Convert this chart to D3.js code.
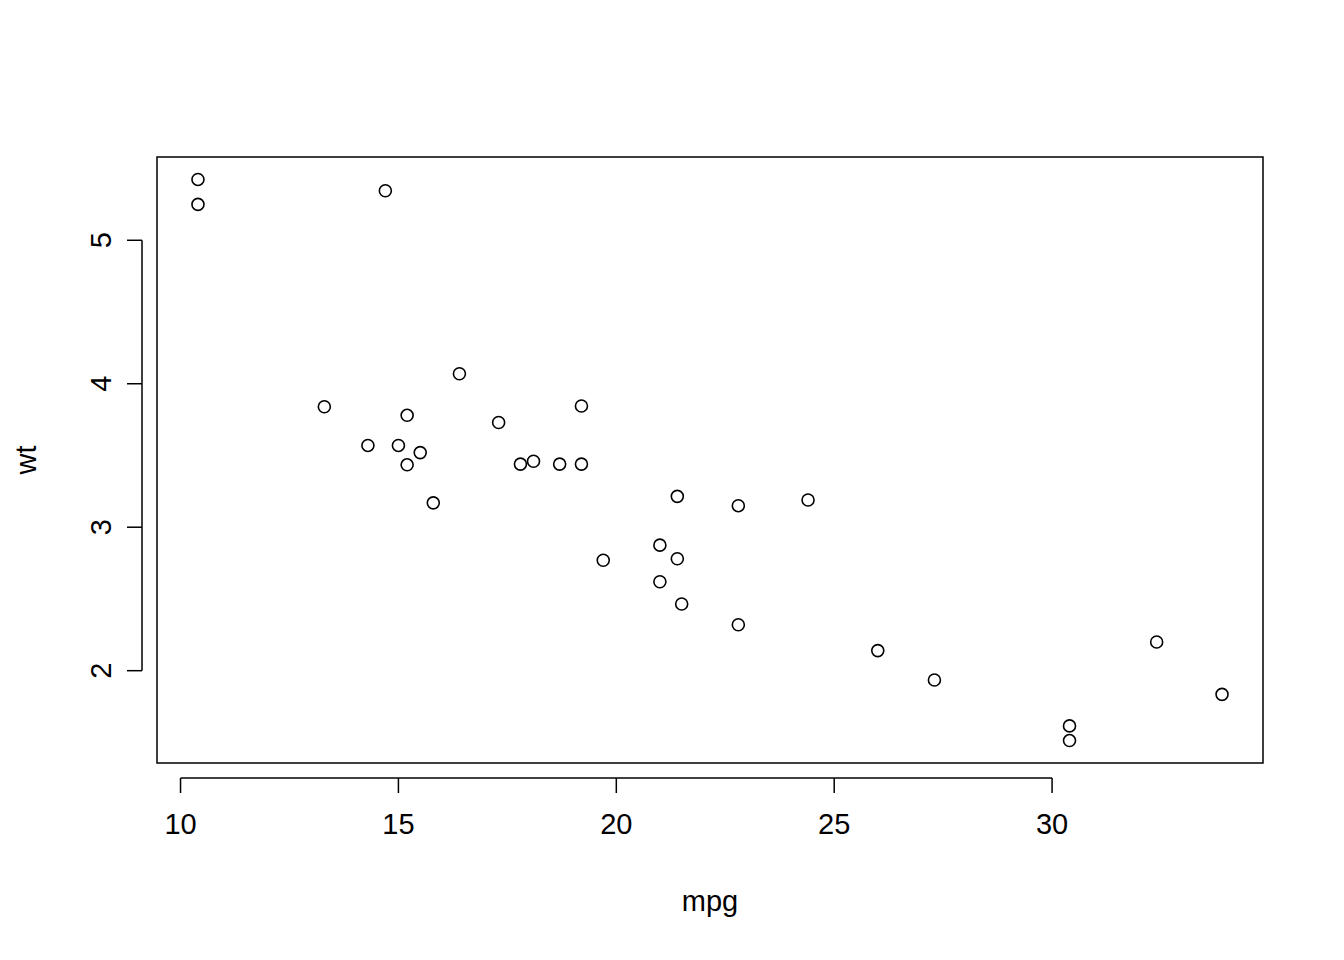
<!DOCTYPE html>
<html>
<head>
<meta charset="utf-8">
<script src="https://cdn.jsdelivr.net/npm/d3@7"></script>
<style>
  body { margin: 0; background: #fff; }
  text { font-family: "Liberation Sans", Arial, sans-serif; fill: #000; }
</style>
</head>
<body>
<svg id="chart" width="1344" height="960"></svg>
<script>
const mpg = [21.0, 21.0, 22.8, 21.4, 18.7, 18.1, 14.3, 24.4, 22.8, 19.2, 17.8, 16.4, 17.3, 15.2, 10.4, 10.4,
  14.7, 32.4, 30.4, 33.9, 21.5, 15.5, 15.2, 13.3, 19.2, 27.3, 26.0, 30.4, 15.8, 19.7, 15.0, 21.4];
const wt = [2.620, 2.875, 2.320, 3.215, 3.440, 3.460, 3.570, 3.190, 3.150, 3.440, 3.440, 4.070, 3.730, 3.780, 5.250, 5.424,
  5.345, 2.200, 1.615, 1.835, 2.465, 3.520, 3.435, 3.840, 3.845, 1.935, 2.140, 1.513, 3.170, 2.770, 3.570, 2.780];
const xTicks = [10, 15, 20, 25, 30];
const yTicks = [2, 3, 4, 5];

const plotLeft = 157, plotRight = 1263, plotTop = 157, plotBottom = 763;
const svg = d3.select("#chart");

// R pads the data range by 4% on each side
function padded(values) {
  const [lo, hi] = d3.extent(values);
  const p = (hi - lo) * 0.04;
  return [lo - p, hi + p];
}

const x = d3.scaleLinear().domain(padded(mpg)).range([plotLeft, plotRight]);
const y = d3.scaleLinear().domain(padded(wt)).range([plotBottom, plotTop]);

svg.append("rect")
  .attr("x", plotLeft).attr("y", plotTop)
  .attr("width", plotRight - plotLeft).attr("height", plotBottom - plotTop)
  .attr("fill", "none").attr("stroke", "#000").attr("stroke-width", 1.5);

// x axis
const xa = svg.append("g").attr("stroke", "#000").attr("stroke-width", 1.5);
xa.append("line")
  .attr("x1", x(xTicks[0])).attr("x2", x(xTicks[xTicks.length - 1]))
  .attr("y1", 778).attr("y2", 778);
xa.selectAll(".tk").data(xTicks).enter().append("line")
  .attr("x1", d => x(d)).attr("x2", d => x(d))
  .attr("y1", 778).attr("y2", 793);
svg.selectAll(".xl").data(xTicks).enter().append("text")
  .attr("x", d => x(d)).attr("y", 834)
  .attr("text-anchor", "middle").attr("font-size", 29)
  .text(d => d);

// y axis
const ya = svg.append("g").attr("stroke", "#000").attr("stroke-width", 1.5);
ya.append("line")
  .attr("x1", 142).attr("x2", 142)
  .attr("y1", y(yTicks[0])).attr("y2", y(yTicks[yTicks.length - 1]));
ya.selectAll(".tk").data(yTicks).enter().append("line")
  .attr("x1", 127).attr("x2", 142)
  .attr("y1", d => y(d)).attr("y2", d => y(d));
svg.selectAll(".yl").data(yTicks).enter().append("text")
  .attr("transform", d => `translate(111, ${y(d)}) rotate(-90)`)
  .attr("text-anchor", "middle").attr("font-size", 29)
  .text(d => d);

// axis titles
svg.append("text").attr("x", (plotLeft + plotRight) / 2).attr("y", 911)
  .attr("text-anchor", "middle").attr("font-size", 29).text("mpg");
svg.append("text").attr("transform", `translate(36, ${(plotTop + plotBottom) / 2}) rotate(-90)`)
  .attr("text-anchor", "middle").attr("font-size", 29).text("wt");

// points
svg.selectAll(".pt").data(mpg).enter().append("circle")
  .attr("cx", d => x(d))
  .attr("cy", (d, i) => y(wt[i]))
  .attr("r", 6)
  .attr("fill", "none").attr("stroke", "#000").attr("stroke-width", 1.6);
</script>
</body>
</html>
